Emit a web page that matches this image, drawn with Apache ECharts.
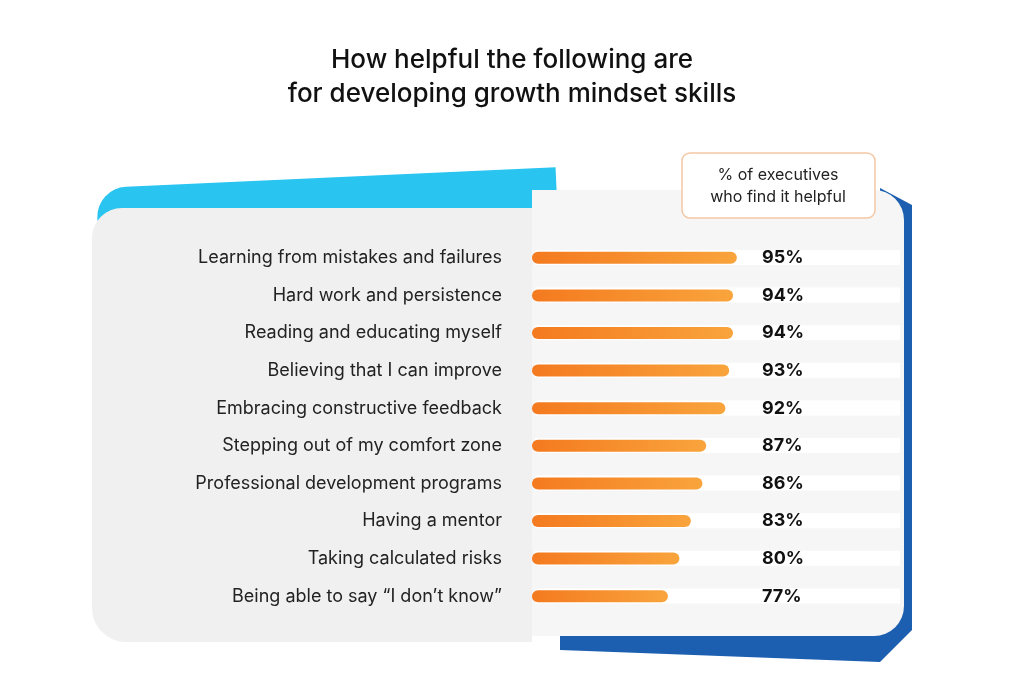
<!DOCTYPE html><html><head><meta charset="utf-8">
<script src="https://cdn.jsdelivr.net/npm/echarts@6/dist/echarts.min.js"></script>
<style>html,body{margin:0;background:#fff}#c{width:1024px;height:682px}</style></head><body><div id="c"></div>
<script>
const categories=["Learning from mistakes and failures","Hard work and persistence","Reading and educating myself","Believing that I can improve","Embracing constructive feedback","Stepping out of my comfort zone","Professional development programs","Having a mentor","Taking calculated risks","Being able to say \u201cI don\u2019t know\u201d"];
const values=[95,94,94,93,92,87,86,83,80,77];
const valueLabels=values.map(v=>v+'%');
const chart=echarts.init(document.getElementById('c'));
const font='Inter';
const stripes=[];
for(let i=0;i<10;i++){stripes.push({type:'rect',z:-5,shape:{x:535,y:250+i*37.6,width:365,height:15},style:{fill:'#ffffff'}});}
chart.setOption({
 textStyle:{fontFamily:font},
 title:{text:'How helpful the following are\nfor developing growth mindset skills',left:'center',top:38,textStyle:{fontFamily:font,fontSize:26,fontWeight:500,color:'#111',lineHeight:34}},
 graphic:[
  {type:'rect',z:-10,shape:{x:96,y:188,width:460,height:300,r:[30,0,0,0]},rotation:0.045,originX:96,originY:188,style:{fill:'#29c4f0'}},
  {type:'polygon',z:-10,shape:{points:[[880,188],[912,205],[912,630],[880,662],[560,650],[560,420],[880,420]]},style:{fill:'#1c5fb0'}},
  {type:'rect',z:-9,shape:{x:92,y:208,width:440,height:434,r:[30,0,0,34]},style:{fill:'#f0f0f0'}},
  {type:'rect',z:-9,shape:{x:532,y:190,width:372,height:446,r:[0,30,30,0]},style:{fill:'#f6f6f6'}},
  ...stripes,
  {type:'rect',z:5,shape:{x:682,y:153,width:193,height:65,r:8},style:{fill:'#fff',stroke:'#f3c7a4',lineWidth:1.5}},
  {type:'text',z:6,x:778,y:186,style:{text:'% of executives\nwho find it helpful',fontFamily:font,fontSize:16,fill:'#222',align:'center',verticalAlign:'middle',lineHeight:22}}
 ],
 grid:{left:532,right:268,top:239,height:376},
 xAxis:{type:'value',min:41.5,max:100,show:false},
 yAxis:[
  {type:'category',data:categories,inverse:true,axisLine:{show:false},axisTick:{show:false},axisLabel:{margin:30,fontSize:18,color:'#222',fontFamily:font}},
  {type:'category',data:valueLabels,inverse:true,position:'right',axisLine:{show:false},axisTick:{show:false},axisLabel:{margin:6,fontSize:18,fontWeight:'bold',color:'#111',fontFamily:font}}
 ],
 series:[{type:'bar',data:values,barWidth:12,itemStyle:{borderRadius:6,color:new echarts.graphic.LinearGradient(0,0,1,0,[{offset:0,color:'#f47a1f'},{offset:1,color:'#f9a43c'}])},animation:false}]
});
</script></body></html>
